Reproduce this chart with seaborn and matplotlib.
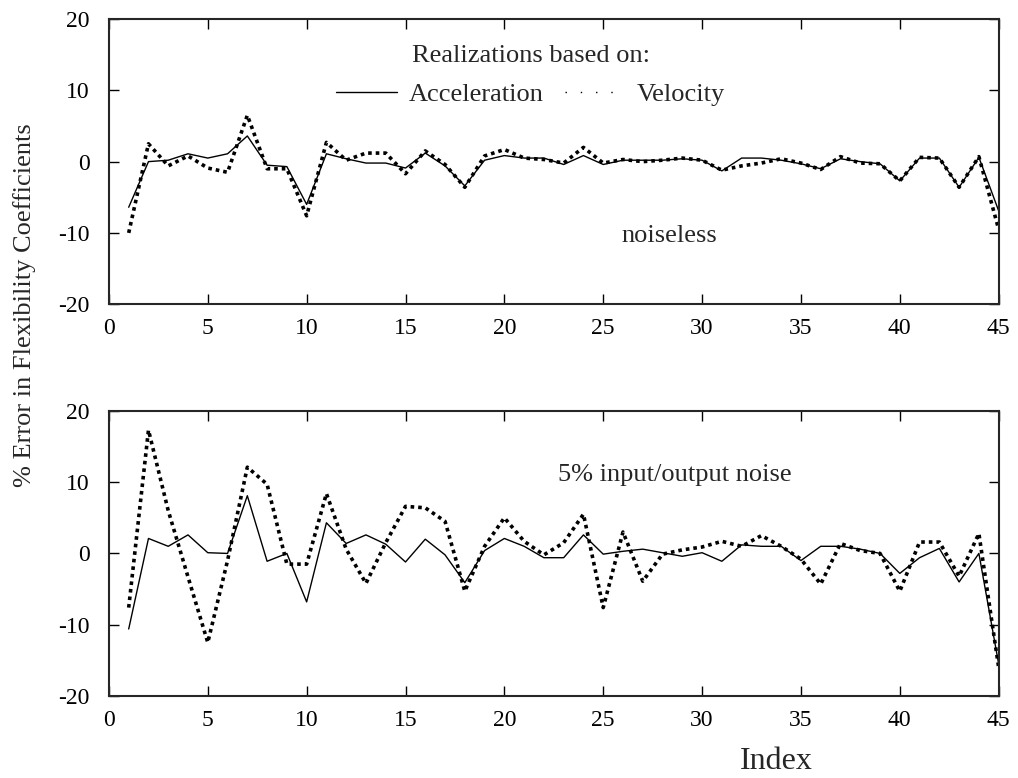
import numpy as np
import pandas as pd
import seaborn as sns
import matplotlib.pyplot as plt

idx = np.arange(1, 46)

# noiseless realizations
acc_clean = [-6.4, 0.0, 0.2, 1.1, 0.5, 1.1, 3.6, -0.5, -0.7, -6.0,
             1.1, 0.4, -0.2, -0.2, -0.9, 1.2, -0.6, -3.4, 0.2, 0.85,
             0.5, 0.5, -0.4, 0.85, -0.4, 0.2, 0.2, 0.2, 0.4, 0.2,
             -1.3, 0.5, 0.5, 0.2, -0.3, -1.0, 0.4, 0.0, -0.3, -2.7,
             0.5, 0.5, -3.6, 0.6, -6.9]
vel_clean = [-10.0, 2.5, -0.6, 0.8, -0.9, -1.5, 6.5, -1.0, -1.0, -7.6,
             2.7, 0.2, 1.2, 1.2, -1.7, 1.5, -0.4, -3.6, 0.8, 1.7,
             0.5, 0.3, -0.2, 2.0, -0.2, 0.3, 0.0, 0.2, 0.5, 0.2,
             -1.2, -0.6, -0.2, 0.4, -0.2, -1.1, 0.7, -0.2, -0.3, -2.7,
             0.6, 0.5, -3.6, 0.7, -9.5]

# 5% input/output noise
acc_noise = [-10.6, 2.1, 1.0, 2.6, 0.1, 0.0, 8.1, -1.1, 0.0, -6.8,
             4.3, 1.4, 2.6, 1.3, -1.2, 2.0, -0.2, -4.1, 0.4, 2.1,
             1.0, -0.6, -0.6, 2.6, -0.1, 0.3, 0.6, 0.1, -0.4, 0.1,
             -1.1, 1.2, 1.0, 1.0, -1.0, 1.0, 1.0, 0.6, 0.0, -2.8,
             -0.6, 0.7, -4.0, 0.0, -15.5]
vel_noise = [-7.6, 17.3, 6.0, -3.3, -12.5, -1.0, 12.1, 9.7, -1.5, -1.5,
             8.4, 0.6, -4.2, 1.5, 6.6, 6.4, 4.5, -5.3, 1.0, 5.0,
             1.7, -0.2, 1.5, 5.5, -7.6, 3.0, -3.9, -0.1, 0.5, 0.9,
             1.7, 1.0, 2.5, 1.0, -0.8, -4.3, 1.4, 0.4, 0.0, -5.3,
             1.6, 1.6, -3.2, 2.8, -16.0]

sns.set_style('ticks')
plt.rcParams['font.family'] = ['Liberation Serif', 'DejaVu Serif']
plt.rcParams['axes.linewidth'] = 1.5
plt.rcParams['axes.unicode_minus'] = False

fig = plt.figure(figsize=(10.18, 7.78), dpi=100)
ax1 = fig.add_axes([0.107, 0.609, 0.874, 0.3665])
ax2 = fig.add_axes([0.107, 0.1054, 0.874, 0.3665])

dot = (0, (1, 1.1))
for ax, acc, vel in [(ax1, acc_clean, vel_clean), (ax2, acc_noise, vel_noise)]:
    sns.lineplot(x=idx, y=acc, ax=ax, color='black', lw=1, label='Acceleration')
    sns.lineplot(x=idx, y=vel, ax=ax, color='black', lw=2.6, linestyle=dot, label='Velocity')
    ax.set_xlim(0, 45)
    ax.set_ylim(-20, 20)
    ax.set_xticks(range(0, 46, 5))
    ax.set_yticks(range(-20, 21, 10))
    ax.tick_params(direction='in', length=7, width=1, top=True, right=True,
                   labelsize=17, colors='black')
    ax.tick_params(axis='y', pad=14)
    ax.tick_params(axis='x', pad=10)
    ax.set_xlabel('')
    ax.set_ylabel('')

ax2.get_legend().remove()
leg = ax1.legend(loc='upper center', bbox_to_anchor=(0.474, 0.955), ncol=2,
                 title='Realizations based on:', frameon=False, fontsize=19,
                 title_fontsize=19, handlelength=2.3, columnspacing=0.8,
                 handletextpad=0.45, borderpad=0, labelspacing=0.6)
leg.get_lines()[1].set_linewidth(1)
leg.get_lines()[1].set_linestyle((0, (1, 10)))

ax1.text(28.35, -10.4, 'noiseless', ha='center', va='center', fontsize=19)
ax2.text(28.64, 11.0, '5% input/output noise', ha='center', va='center', fontsize=19)

fig.text(0.763, 0.011, 'Index', ha='center', va='baseline', fontsize=23)
fig.text(0.024, 0.608, '% Error in Flexibility Coefficients', rotation=90,
         ha='center', va='center', fontsize=19)

fig.savefig('out.png', dpi=100)
